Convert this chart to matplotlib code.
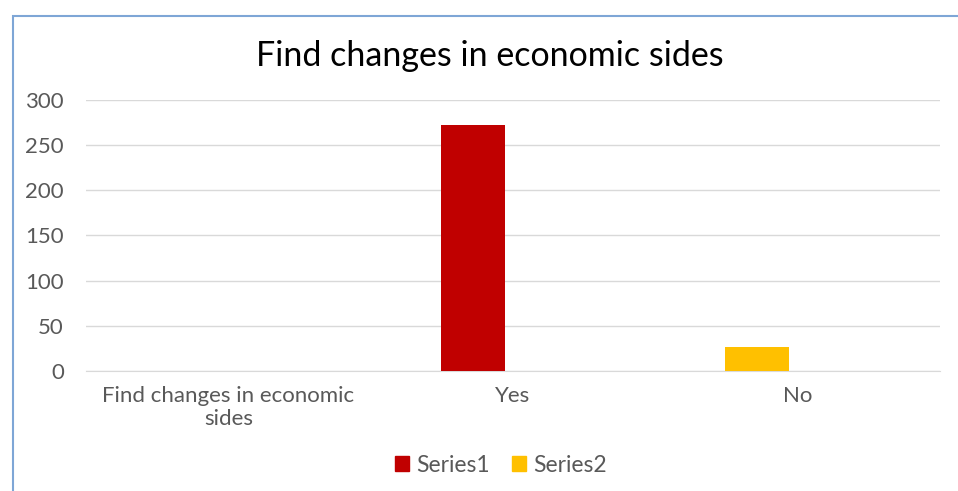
import matplotlib
matplotlib.use("Agg")
from matplotlib import pyplot as plt
from matplotlib.patches import Rectangle, Patch

categories = ["Find changes in economic\nsides", "Yes", "No"]
series1 = [0, 272, 0]
series2 = [0, 0, 27]
series_names = ["Series1", "Series2"]
series_colors = ["#C00000", "#FFC000"]
y_ticks = [0, 50, 100, 150, 200, 250, 300]


def main():
    plt.rcParams['font.family'] = ['Lato', 'DejaVu Sans']
    fig = plt.figure(figsize=(9.58, 4.91), dpi=100)

    # chart frame (cut at right and bottom in the reference)
    fig.patches.append(Rectangle((13 / 958, -0.1), 1.2, (491 - 16) / 491 + 0.1,
                                 transform=fig.transFigure, fill=False,
                                 edgecolor="#7EA6D6", linewidth=1.5))

    ax = fig.add_axes([86 / 958, 120 / 491, 854 / 958, 271 / 491])
    x = list(range(len(categories)))
    width = 0.225
    offset = -0.1415
    ax.bar([i + offset for i in x], series1, width, color=series_colors[0], zorder=3)
    ax.bar([i + offset for i in x], series2, width, color=series_colors[1], zorder=3)

    ax.set_xlim(-0.5, 2.5)
    ax.set_ylim(0, 300)
    ax.set_yticks(y_ticks)
    ax.set_xticks(x)
    ax.set_xticklabels(categories, fontsize=16, color="#595959", linespacing=1.15)
    ax.tick_params(axis="y", labelsize=16, labelcolor="#595959", length=0, pad=16)
    ax.tick_params(axis="x", length=0, pad=11)
    ax.grid(axis="y", color="#D9D9D9", linewidth=1, zorder=0)
    for s in ["top", "right", "left"]:
        ax.spines[s].set_visible(False)
    ax.spines["bottom"].set_color("#D9D9D9")

    fig.text(490 / 958, 1 - 56 / 491, "Find changes in economic sides",
             ha="center", va="center", fontsize=24.5, color="#000000")

    handles = [Patch(color=c, label=n) for c, n in zip(series_colors, series_names)]
    leg = fig.legend(handles=handles, loc="center", bbox_to_anchor=(501 / 958, 1 - 465 / 491),
                     ncol=2, frameon=False, fontsize=16.5, handlelength=0.6, handleheight=0.6,
                     handletextpad=0.3, columnspacing=1.0)
    for t in leg.get_texts():
        t.set_color("#595959")

    fig.savefig("out.png", dpi=100)


if __name__ == '__main__':
    main()
